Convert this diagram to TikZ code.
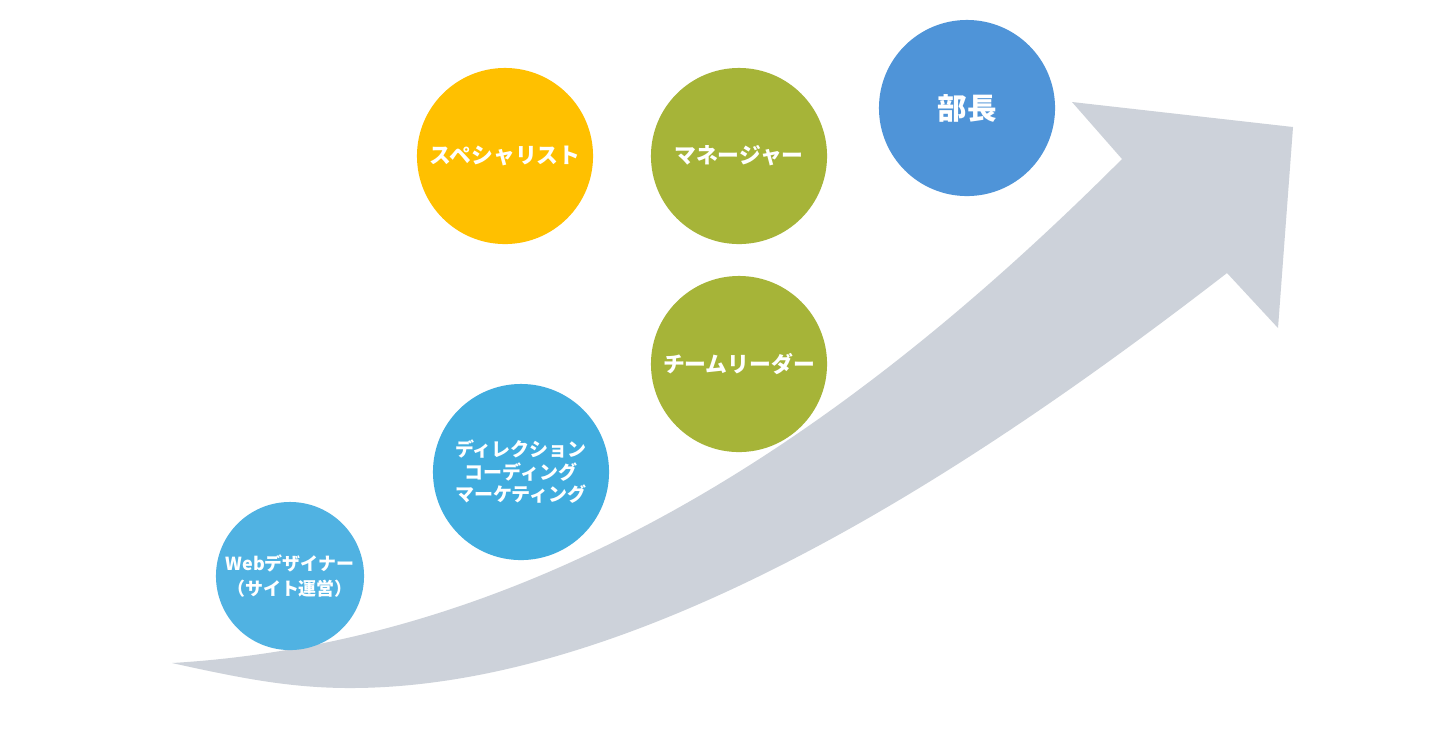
\documentclass[tikz,border=0pt]{standalone}
\usepackage{fontspec}
\setmainfont{Noto Sans CJK JP}
\usepackage{xcolor}
\usepackage{tikz}
\usetikzlibrary{positioning}
\definecolor{arrowgray}{RGB}{205,210,218}
\definecolor{webblue}{RGB}{80,178,226}
\definecolor{skyblue}{RGB}{65,173,223}
\definecolor{amber}{RGB}{255,192,0}
\definecolor{olive}{RGB}{166,180,56}
\definecolor{headblue}{RGB}{79,148,216}

\begin{document}
\begin{tikzpicture}[
    x=0.01cm, y=-0.01cm,
    stage/.style={circle, fill=#1, text=white, align=center, inner sep=0pt, minimum size=1.76cm,
        font=\bfseries\fontsize{6.2}{7.5}\selectfont}
]
\useasboundingbox[fill=white] (0,0) rectangle (1440,729);

% big rising arrow
\fill[arrowgray] (172,663) .. controls (560,640) and (872,409) .. (1122,159)
    -- (1072,102) -- (1293,127) -- (1278,328) -- (1227,273)
    .. controls (990,456) and (650,688) .. (350,688)
    .. controls (290,688) and (240,678) .. (172,663) -- cycle;

% career stages
\node[stage=webblue, minimum size=1.48cm, font=\bfseries\fontsize{5.1}{7}\selectfont] (web) at (290,576) {Webデザイナー\\（サイト運営）};
\node[stage=skyblue, font=\bfseries\fontsize{5.4}{6.4}\selectfont] (skill) at (521,472) {ディレクション\\コーディング\\マーケティング};
\node[stage=amber] (spec) at (505,156) {スペシャリスト};
\node[stage=olive] (lead) at (739,364) {チームリーダー};
\node[stage=olive] (mgr) at (739,156) {マネージャー};
\node[stage=headblue, font=\bfseries\fontsize{8.4}{10}\selectfont] (head) at (967,108) {部長};
\end{tikzpicture}
\end{document}
